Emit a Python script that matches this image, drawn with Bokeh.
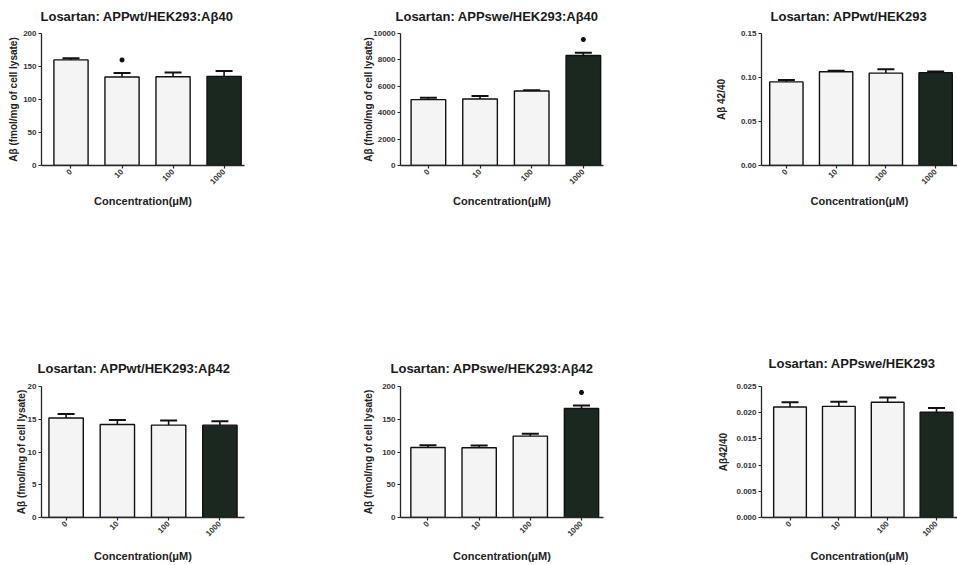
import math
from bokeh.plotting import figure
from bokeh.layouts import column, row
from bokeh.models import (ColumnDataSource, Whisker, TeeHead, FixedTicker,
                          NumeralTickFormatter, Range1d)
from bokeh.embed import file_html
from bokeh.resources import INLINE

# ---------------- data ----------------
concentrations = ["0", "10", "100", "1000"]

wt_ab40_mean = [160, 134, 134.5, 135]
wt_ab40_err = [2.5, 6, 6.5, 8]
wt_ab40_sig = [False, True, False, False]

swe_ab40_mean = [4990, 5040, 5640, 8330]
swe_ab40_err = [150, 230, 70, 220]
swe_ab40_sig = [False, False, False, True]

wt_ratio_mean = [0.0950, 0.1065, 0.1050, 0.1055]
wt_ratio_err = [0.0022, 0.0012, 0.0045, 0.0012]
wt_ratio_sig = [False, False, False, False]

wt_ab42_mean = [15.2, 14.2, 14.1, 14.1]
wt_ab42_err = [0.6, 0.7, 0.7, 0.6]
wt_ab42_sig = [False, False, False, False]

swe_ab42_mean = [106.8, 106.5, 124.3, 166.4]
swe_ab42_err = [3.5, 3.5, 3.5, 4.6]
swe_ab42_sig = [False, False, False, True]

swe_ratio_mean = [0.0211, 0.0212, 0.0220, 0.0201]
swe_ratio_err = [0.0009, 0.0009, 0.0009, 0.0008]
swe_ratio_sig = [False, False, False, False]

FONT = "Liberation Sans"
AX = "#262626"
LIGHT = "#f3f4f3"
DARK = "#1b2820"


def panel(title, means, errs, sig, y_end, y_step, y_fmt, y_label,
          width, height, bl, br, bt, bb, x0, x1, lab_standoff,
          title_offset, title_standoff, title_valign, xlab_standoff):
    xs = list(range(len(concentrations)))
    colors = [LIGHT] * (len(xs) - 1) + [DARK]
    src = ColumnDataSource(dict(
        x=xs, top=means, upper=[m + e for m, e in zip(means, errs)], color=colors))
    p = figure(width=width, height=height, x_range=Range1d(x0, x1),
               y_range=Range1d(0, y_end), output_backend="svg",
               toolbar_location=None, min_border_left=bl, min_border_right=br,
               min_border_top=bt, min_border_bottom=bb)
    p.title.text = title
    p.title.text_font = FONT
    p.title.text_font_size = "13px"
    p.title.text_font_style = "bold"
    p.title.text_color = "#1a1a1a"
    p.title.align = "left"
    p.title.vertical_align = title_valign
    p.title.offset = title_offset
    p.title.standoff = title_standoff
    p.grid.visible = False
    p.outline_line_color = None
    p.background_fill_color = "white"
    p.border_fill_color = "white"

    p.vbar(x="x", top="top", width=0.67, source=src, fill_color="color",
           line_color="#111111", line_width=1.4)
    p.add_layout(Whisker(source=src, base="x", lower="top", upper="upper",
                         line_color="#111111", line_width=1.6, lower_head=None,
                         upper_head=TeeHead(size=17, line_color="#111111", line_width=2)))
    sx = [x for x, s in zip(xs, sig) if s]
    sy = [m + e + 0.1 * y_end for m, e, s in zip(means, errs, sig) if s]
    if sx:
        p.scatter(x=sx, y=sy, marker="asterisk", size=5, line_color="#111111", line_width=1.5)

    for ax in (p.xaxis[0], p.yaxis[0]):
        ax.axis_line_color = AX
        ax.axis_line_width = 1.3
        ax.major_tick_line_color = AX
        ax.major_tick_line_width = 1.2
        ax.major_tick_out = 3
        ax.major_tick_in = 0
        ax.minor_tick_out = 0
        ax.minor_tick_in = 0
        ax.major_label_text_font = FONT
        ax.major_label_text_font_size = "8px"
        ax.major_label_text_font_style = "bold"
        ax.major_label_text_color = "#333333"
        ax.axis_label_text_font = FONT
        ax.axis_label_text_font_style = "bold"
        ax.axis_label_text_color = "#222222"
        ax.major_label_standoff = 2

    p.xaxis.ticker = FixedTicker(ticks=xs)
    p.xaxis.major_label_overrides = {x: c for x, c in zip(xs, concentrations)}
    p.xaxis.major_label_orientation = math.pi / 4
    p.xaxis.major_label_text_line_height = 0.9
    p.xaxis.axis_label_text_line_height = 0.9
    p.xaxis.axis_label_text_font_size = "11px"
    p.xaxis.axis_label = "Concentration(\u03bcM)"
    p.xaxis.axis_label_standoff = xlab_standoff

    n = int(round(y_end / y_step))
    p.yaxis.ticker = FixedTicker(ticks=[round(i * y_step, 10) for i in range(n + 1)])
    p.yaxis.formatter = NumeralTickFormatter(format=y_fmt)
    p.yaxis.axis_label = y_label
    p.yaxis.axis_label_text_font_size = "10px"
    p.yaxis.axis_label_standoff = lab_standoff
    return p


YL = "A\u03b2 (fmol/mg of cell lysate)"
H1, H2 = 285, 280

p1 = panel("Losartan: APPwt/HEK293:A\u03b240", wt_ab40_mean, wt_ab40_err, wt_ab40_sig,
           200, 50, "0", YL, 320, H1, 41, 76, 33, 120, -0.578, 3.40, 1, -1, 16, "top", 5)
p2 = panel("Losartan: APPswe/HEK293:A\u03b240", swe_ab40_mean, swe_ab40_err, swe_ab40_sig,
           10000, 2000, "0", YL, 320, H1, 80, 37, 33, 120, -0.54, 3.39, -4, -5, 16, "top", 5)
p3 = panel("Losartan: APPwt/HEK293", wt_ratio_mean, wt_ratio_err, wt_ratio_sig,
           0.15, 0.05, "0.00", "A\u03b2 42/40", 317, H1, 121, 0, 33, 120, -0.50, 3.44, 11, 9, 16, "top", 5)
p4 = panel("Losartan: APPwt/HEK293:A\u03b242", wt_ab42_mean, wt_ab42_err, wt_ab42_sig,
           20, 5, "0", YL, 320, H2, 41, 76, 101, 48, -0.48, 3.48, -2, -4, 21, "bottom", 8)
p5 = panel("Losartan: APPswe/HEK293:A\u03b242", swe_ab42_mean, swe_ab42_err, swe_ab42_sig,
           200, 50, "0", YL, 320, H2, 80, 37, 101, 48, -0.537, 3.43, 5, -10, 21, "bottom", 8)
p6 = panel("Losartan: APPswe/HEK293", swe_ratio_mean, swe_ratio_err, swe_ratio_sig,
           0.025, 0.005, "0.000", "A\u03b242/40", 317, H2, 121, 0, 101, 48, -0.584, 3.43, 4, 7, 31, "bottom", 8)

layout = column(row(p1, p2, p3), row(p4, p5, p6))
open("out.html", "w").write(file_html(layout, INLINE))
